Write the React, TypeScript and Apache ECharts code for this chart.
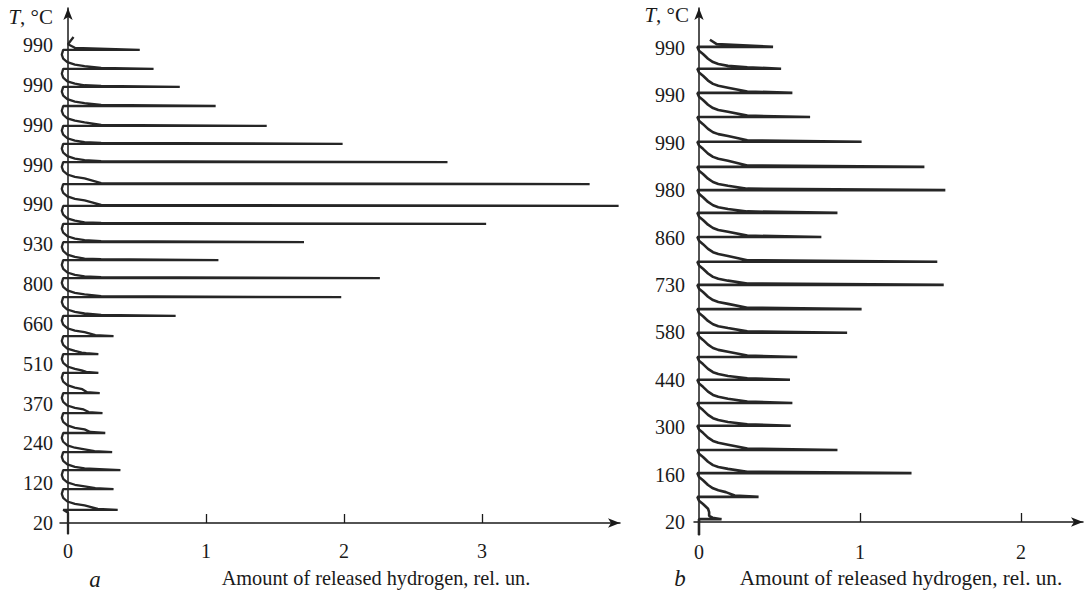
import React, { useEffect, useRef } from "react";
import * as echarts from "echarts";

// Tick labels (bottom to top), one every 10 units of the step axis
const leftYLabels = ["20", "120", "240", "370", "510", "660", "800", "930", "990", "990", "990", "990", "990"];
const rightYLabels = ["20", "160", "300", "440", "580", "730", "860", "980", "990", "990", "990"];
const leftXTicks = [0, 1, 2, 3];
const rightXTicks = [0, 1, 2];

// Position (step units) of each desorption peak, top to bottom
const leftSpikeU = [118.8, 114.0, 109.5, 104.7, 99.7, 95.2, 90.6, 85.1, 79.6, 75.1, 70.5, 66.0, 61.5, 56.7, 52.0, 46.9, 42.4, 37.7, 32.6, 27.6, 22.6, 17.8, 13.3, 8.5, 3.3];
const leftPeaks = [0.52, 0.62, 0.81, 1.07, 1.44, 1.99, 2.75, 3.78, 3.99, 3.03, 1.71, 1.09, 2.26, 1.98, 0.78, 0.33, 0.22, 0.22, 0.23, 0.25, 0.27, 0.32, 0.38, 0.33, 0.36];
const rightSpikeU = [100.2, 95.6, 90.5, 85.4, 80.2, 74.9, 70.0, 65.2, 60.1, 54.9, 50.0, 44.9, 39.9, 34.8, 30.0, 25.1, 20.3, 15.2, 10.3, 5.3, 0.6];
const rightPeaks = [0.46, 0.51, 0.58, 0.69, 1.01, 1.40, 1.53, 0.86, 0.76, 1.48, 1.52, 1.01, 0.92, 0.61, 0.565, 0.58, 0.57, 0.86, 1.32, 0.37, 0.14];

// Shape of the background trace between two peaks: [x, offset below peak]
const leftCurve = [[-0.035, 0], [-0.045, -1.2], [-0.035, -2.2], [-0.005, -3.1], [0.05, -3.7], [0.12, -4.1]];
const leftMerge = [0.24, 0.25];
const leftHook = [[0.04, 122.0], [0.0, 120.2], [0.05, 119.3]];
const leftTail = [[-0.035, 3.3], [0.0, 2.6], [0.0, -2.76]];

const rightCurve = [[-0.01, 0], [0.0, -0.8], [0.025, -1.5], [0.056, -2.5], [0.087, -3.2], [0.12, -3.6], [0.18, -4.0]];
const rightMerge = [0.3, 0.3];
const rightHook = [[0.068, 101.7], [0.11, 100.8]];
const rightTail = [[0.0, 0.6], [0.0, -2.74]];

function buildTrace(spikes: number[], peaks: number[], curve: number[][], merge: number[], hook: number[][], tail: number[][]) {
  const pts: number[][] = hook.map((p) => [p[0], p[1]]);
  spikes.forEach((u, i) => {
    if (i > 0) pts.push([Math.min(merge[0], peaks[i] * 0.6), u + merge[1]]);
    pts.push([peaks[i], u]);
    if (i < spikes.length - 1) {
      const cap = Math.min(merge[0], peaks[i + 1] * 0.6) * 0.75;
      curve.forEach((c) => pts.push([Math.min(c[0], cap), u + c[1]]));
    }
  });
  tail.forEach((p) => pts.push([p[0], p[1]]));
  return pts;
}

const SERIF = "'Liberation Serif', 'DejaVu Serif', serif";
const INK = "#1a1a1a";
const LINE = "#262626";

export default function App() {
  const ref = useRef<HTMLDivElement>(null);
  useEffect(() => {
    document.body.style.margin = "0";
    const chart = echarts.init(ref.current!, undefined, { renderer: "svg" });
    const axisLine = {
      show: true,
      symbol: ["none", "arrow"],
      symbolSize: [7, 12],
      lineStyle: { color: INK, width: 1.5 },
    };
    const yLabelSteps = (labels: string[]) => labels.map((_, k) => k * 10);
    const tLabel = {
      text: "{i|T}{n|, °C}",
      rich: {
        i: { fontFamily: SERIF, fontStyle: "italic", fontSize: 21, fill: INK },
        n: { fontFamily: SERIF, fontSize: 21, fill: INK },
      },
    };
    const option: any = {
      animation: false,
      backgroundColor: "#ffffff",
      grid: [
        { left: 60, top: 8, width: 560, height: 526 },
        { left: 694, top: 8, width: 389, height: 527 },
      ],
      xAxis: [
        {
          type: "value", gridIndex: 0, min: -0.058, max: 4.0,
          axisLine,
          axisTick: { show: true, inside: true, length: 9, customValues: [1, 2, 3], lineStyle: { color: INK, width: 1.3 } },
          axisLabel: { customValues: leftXTicks, fontFamily: SERIF, fontSize: 20, color: INK, margin: 7 },
          splitLine: { show: false },
        },
        {
          type: "value", gridIndex: 1, min: -0.031, max: 2.385,
          axisLine,
          axisTick: { show: true, inside: true, length: 9, customValues: [1, 2], lineStyle: { color: INK, width: 1.3 } },
          axisLabel: { customValues: rightXTicks, fontFamily: SERIF, fontSize: 20, color: INK, margin: 7 },
          splitLine: { show: false },
        },
      ],
      yAxis: [
        {
          type: "value", gridIndex: 0, min: -2.76, max: 129.3,
          axisLine,
          axisTick: { show: false },
          axisLabel: {
            customValues: yLabelSteps(leftYLabels),
            formatter: (v: number) => leftYLabels[Math.round(v / 10)] ?? "",
            fontFamily: SERIF, fontSize: 20, color: INK, margin: 7,
          },
          splitLine: { show: false },
        },
        {
          type: "value", gridIndex: 1, min: -2.74, max: 108.4,
          axisLine,
          axisTick: { show: false },
          axisLabel: {
            customValues: yLabelSteps(rightYLabels),
            formatter: (v: number) => rightYLabels[Math.round(v / 10)] ?? "",
            fontFamily: SERIF, fontSize: 20, color: INK, margin: 9,
          },
          splitLine: { show: false },
        },
      ],
      series: [
        {
          type: "line", xAxisIndex: 0, yAxisIndex: 0, showSymbol: false, clip: false,
          data: buildTrace(leftSpikeU, leftPeaks, leftCurve, leftMerge, leftHook, leftTail),
          lineStyle: { color: LINE, width: 2.3 },
        },
        {
          type: "line", xAxisIndex: 1, yAxisIndex: 1, showSymbol: false, clip: false,
          data: buildTrace(rightSpikeU, rightPeaks, rightCurve, rightMerge, rightHook, rightTail),
          lineStyle: { color: LINE, width: 2.6 },
        },
      ],
      graphic: [
        { type: "text", right: 1085 - 53, top: 6, style: tLabel },
        { type: "text", right: 1085 - 689, top: 4, style: tLabel },
        {
          type: "text", x: 376, y: 578,
          style: { text: "Amount of released hydrogen, rel. un.", fontFamily: SERIF, fontSize: 20.3, fill: INK, align: "center", verticalAlign: "middle" },
        },
        {
          type: "text", x: 901, y: 578,
          style: { text: "Amount of released hydrogen, rel. un.", fontFamily: SERIF, fontSize: 21.2, fill: INK, align: "center", verticalAlign: "middle" },
        },
        {
          type: "text", x: 95, y: 579,
          style: { text: "a", fontFamily: SERIF, fontStyle: "italic", fontSize: 23, fill: INK, align: "center", verticalAlign: "middle" },
        },
        {
          type: "text", x: 680, y: 578,
          style: { text: "b", fontFamily: SERIF, fontStyle: "italic", fontSize: 23, fill: INK, align: "center", verticalAlign: "middle" },
        },
      ],
    };
    chart.setOption(option);
    return () => chart.dispose();
  }, []);
  return <div ref={ref} style={{ width: 1085, height: 591 }} />;
}
